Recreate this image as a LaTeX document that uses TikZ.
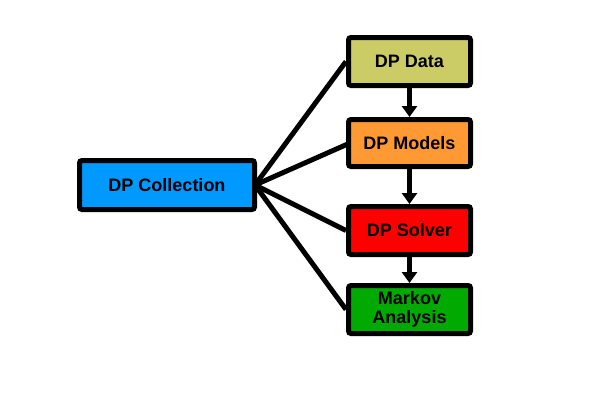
\documentclass[tikz,border=0pt]{standalone}
\usepackage{fontspec}
\setmainfont{Liberation Sans}
\usetikzlibrary{arrows.meta}
\definecolor{cblue}{RGB}{0,153,255}
\definecolor{cdata}{RGB}{204,204,102}
\definecolor{cmodels}{RGB}{255,153,51}
\definecolor{csolver}{RGB}{255,0,0}
\definecolor{cmarkov}{RGB}{0,170,0}
\begin{document}
\begin{tikzpicture}[x=1pt,y=-1pt,
  box/.style={draw=black,line width=5pt,rounded corners=2.5pt,inner sep=0pt,
    font=\fontsize{18}{19}\selectfont\bfseries,align=center},
  conn/.style={line width=5pt,draw=black},
  flow/.style={line width=5pt,draw=black,-{Triangle[length=11pt,width=15pt]}}]
\useasboundingbox (0,0) rectangle (600,400);
\node[box,fill=cblue,minimum width=175pt,minimum height=49pt] (col) at (167,185) {DP Collection};
\node[box,fill=cdata,minimum width=122pt,minimum height=48pt] (data) at (409.5,61.5) {DP Data};
\node[box,fill=cmodels,minimum width=122pt,minimum height=47pt] (models) at (409.5,143) {DP Models};
\node[box,fill=csolver,minimum width=122pt,minimum height=48pt] (solver) at (409.5,230.5) {DP Solver};
\node[box,fill=cmarkov,minimum width=122pt,minimum height=48pt] (markov) at (409.5,309.5) {Markov\\Analysis};
\coordinate (hub) at ([xshift=-2pt]col.east);
\draw[conn] (hub) -- (data.west);
\draw[conn] (hub) -- ([xshift=4pt]models.west);
\draw[conn] (hub) -- (solver.west);
\draw[conn] (hub) -- (markov.west);
\draw[flow] (data.south) -- (models.north);
\draw[flow] (models.south) -- (solver.north);
\draw[flow] (solver.south) -- (markov.north);
\end{tikzpicture}
\end{document}
